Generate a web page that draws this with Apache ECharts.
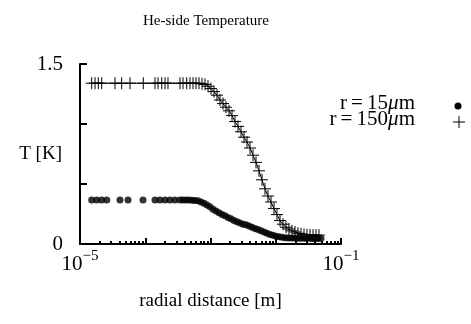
<!DOCTYPE html>
<html>
<head>
<meta charset="utf-8">
<script src="https://cdn.jsdelivr.net/npm/echarts@6/dist/echarts.min.js"></script>
<style>
  html, body { margin: 0; padding: 0; background: #fff; }
  #container { width: 471px; height: 324px; }
</style>
</head>
<body>
<div id="container"></div>
<script>
// r = 15 um  (dots)
var dotR = [1.51e-5, 1.80e-5, 2.15e-5, 2.57e-5, 4.10e-5, 5.44e-5, 9.24e-5, 1.41e-4, 1.68e-4, 2.01e-4, 2.39e-4, 2.86e-4, 3.41e-4,
    3.79e-4, 4.21e-4, 4.68e-4, 5.21e-4, 5.79e-4, 6.43e-4, 7.15e-4, 7.95e-4, 8.84e-4, 9.82e-4,
    1.092e-3, 1.214e-3, 1.350e-3, 1.501e-3, 1.669e-3, 1.855e-3, 2.062e-3, 2.293e-3, 2.548e-3, 2.833e-3,
    3.150e-3, 3.501e-3, 3.891e-3, 4.325e-3, 4.808e-3, 5.346e-3, 5.942e-3, 6.606e-3, 7.344e-3, 8.164e-3,
    9.076e-3, 1.009e-2, 1.121e-2, 1.247e-2, 1.386e-2, 1.541e-2, 1.713e-2, 1.904e-2, 2.117e-2, 2.353e-2,
    2.616e-2, 2.908e-2, 3.233e-2, 3.594e-2, 3.995e-2, 4.441e-2, 4.937e-2];
var dotT = [0.367, 0.367, 0.367, 0.367, 0.367, 0.367, 0.367, 0.367, 0.367, 0.367, 0.367, 0.367, 0.367,
    0.367, 0.367, 0.366, 0.365, 0.363, 0.36, 0.35, 0.34, 0.325, 0.31,
    0.29, 0.275, 0.26, 0.245, 0.235, 0.22, 0.21, 0.195, 0.185, 0.175,
    0.165, 0.16, 0.15, 0.14, 0.13, 0.12, 0.11, 0.10, 0.09, 0.08,
    0.072, 0.065, 0.06, 0.056, 0.053, 0.051, 0.05, 0.049, 0.048, 0.048,
    0.047, 0.047, 0.047, 0.046, 0.046, 0.046, 0.046];

// r = 150 um  (pluses)
var plusR = [1.51e-5, 1.70e-5, 1.91e-5, 2.15e-5, 3.44e-5, 4.35e-5, 5.84e-5, 9.33e-5, 1.41e-4, 1.57e-4, 1.79e-4, 2.01e-4, 2.23e-4,
    3.41e-4, 3.79e-4, 4.32e-4,
    4.85e-4, 5.39e-4, 5.99e-4, 6.66e-4, 7.41e-4, 8.24e-4, 9.16e-4, 1.018e-3, 1.131e-3, 1.258e-3,
    1.398e-3, 1.555e-3, 1.728e-3, 1.921e-3, 2.136e-3, 2.375e-3, 2.640e-3, 2.934e-3, 3.262e-3, 3.626e-3,
    4.031e-3, 4.481e-3, 4.982e-3, 5.538e-3, 6.157e-3, 6.843e-3, 7.607e-3, 8.457e-3, 9.40e-3, 1.045e-2,
    1.162e-2, 1.291e-2, 1.436e-2, 1.596e-2, 1.774e-2, 1.972e-2, 2.193e-2, 2.438e-2, 2.710e-2, 3.012e-2,
    3.349e-2, 3.723e-2, 4.139e-2, 4.600e-2];
var plusT = [1.34, 1.34, 1.34, 1.34, 1.34, 1.34, 1.34, 1.34, 1.34, 1.34, 1.34, 1.34, 1.34,
    1.34, 1.34, 1.34,
    1.34, 1.34, 1.34, 1.34, 1.335, 1.33, 1.315, 1.295, 1.27, 1.24,
    1.20, 1.17, 1.14, 1.11, 1.07, 1.02, 0.98, 0.935, 0.89, 0.85,
    0.80, 0.74, 0.68, 0.61, 0.535, 0.46, 0.40, 0.35, 0.295, 0.245,
    0.195, 0.165, 0.14, 0.125, 0.11, 0.10, 0.09, 0.085, 0.08, 0.078,
    0.076, 0.075, 0.074, 0.074];

var yTickLabels = { '0': '0', '1.5': '1.5' };
var xTickLabels = { '-5': '−5', '-1': '−1' };
var legendNames = ['r=15', 'r=150'];

var serif = '"Liberation Serif", "DejaVu Serif", serif';
var plusPath = 'path://M0,6L12,6M6,0L6,12';

function pairs(xs, ys) {
    var out = [];
    for (var i = 0; i < xs.length; i++) {
        out.push([xs[i], ys[i]]);
    }
    return out;
}

// legend text: r = 15 um style, with a little math spacing round "="
function legendText(name) {
    return '{a|' + name.replace('=', '\u2009=\u2009') + '}{m|μ}{a|m}';
}

var dom = document.getElementById('container');
var myChart = echarts.init(dom);

var legendRich = {
    a: { fontFamily: serif, fontSize: 21, fill: '#000' },
    m: { fontFamily: serif, fontSize: 21, fontStyle: 'italic', fill: '#000' }
};

var option = {
    animation: false,
    backgroundColor: '#fff',
    title: {
        text: 'He-side Temperature',
        left: 201,
        top: 9,
        textAlign: 'center',
        textStyle: { fontFamily: serif, fontSize: 15, fontWeight: 'normal', color: '#000' }
    },
    grid: { left: 80, right: 130, top: 64, bottom: 80, outerBoundsMode: 'none' },
    xAxis: {
        type: 'log',
        logBase: 10,
        min: 1e-5,
        max: 1e-1,
        name: 'radial distance [m]',
        nameLocation: 'middle',
        nameGap: 48,
        nameMoveOverlap: false,
        nameTextStyle: { fontFamily: serif, fontSize: 19, color: '#000' },
        axisLine: { lineStyle: { color: '#000', width: 2 } },
        axisTick: { inside: true, length: 6, lineStyle: { color: '#000', width: 2 } },
        minorTick: { show: true, splitNumber: 9, length: 3, lineStyle: { color: '#000', width: 2 } },
        splitLine: { show: false },
        axisLabel: {
            margin: 5,
            formatter: function(v) {
                var e = String(Math.round(Math.log(v) / Math.LN10));
                if (xTickLabels[e] === undefined) return '';
                return '{b|10}{s|' + xTickLabels[e] + '}';
            },
            rich: {
                b: { fontFamily: serif, fontSize: 21, color: '#000', lineHeight: 26, verticalAlign: 'bottom' },
                s: { fontFamily: serif, fontSize: 15, color: '#000', lineHeight: 26, verticalAlign: 'top' }
            }
        }
    },
    yAxis: {
        type: 'value',
        min: 0,
        max: 1.5,
        interval: 0.5,
        name: 'T [K]',
        nameLocation: 'middle',
        nameRotate: 0,
        nameGap: 18,
        nameMoveOverlap: false,
        nameTextStyle: { fontFamily: serif, fontSize: 19, color: '#000', align: 'right' },
        axisLine: { show: true, lineStyle: { color: '#000', width: 2 } },
        axisTick: { show: true, inside: true, length: 7, lineStyle: { color: '#000', width: 2 } },
        splitLine: { show: false },
        axisLabel: {
            margin: 17,
            fontFamily: serif,
            fontSize: 21,
            color: '#000',
            formatter: function(v) {
                var k = String(Math.round(v * 10) / 10);
                return yTickLabels[k] || '';
            }
        }
    },
    series: [{
        name: legendNames[0],
        type: 'scatter',
        symbol: 'circle',
        symbolSize: 7,
        itemStyle: { color: '#000' },
        data: pairs(dotR, dotT)
    }, {
        name: legendNames[1],
        type: 'line',
        symbol: plusPath,
        symbolSize: 12,
        showSymbol: true,
        showAllSymbol: true,
        lineStyle: { color: '#000', width: 1 },
        itemStyle: { color: 'rgba(0,0,0,0)', borderColor: '#000', borderWidth: 1 },
        data: pairs(plusR, plusT)
    }],
    graphic: [{
        type: 'text',
        right: 56,
        top: 93,
        style: { text: legendText(legendNames[0]), rich: legendRich }
    }, {
        type: 'text',
        right: 56,
        top: 109,
        style: { text: legendText(legendNames[1]), rich: legendRich }
    }, {
        type: 'circle',
        shape: { cx: 458, cy: 106, r: 3.5 },
        style: { fill: '#000' }
    }, {
        type: 'polyline',
        shape: { points: [[453, 122], [465, 122]] },
        style: { stroke: '#000', lineWidth: 1 }
    }, {
        type: 'polyline',
        shape: { points: [[459, 116], [459, 128]] },
        style: { stroke: '#000', lineWidth: 1 }
    }]
};

myChart.setOption(option, true);
</script>
</body>
</html>
